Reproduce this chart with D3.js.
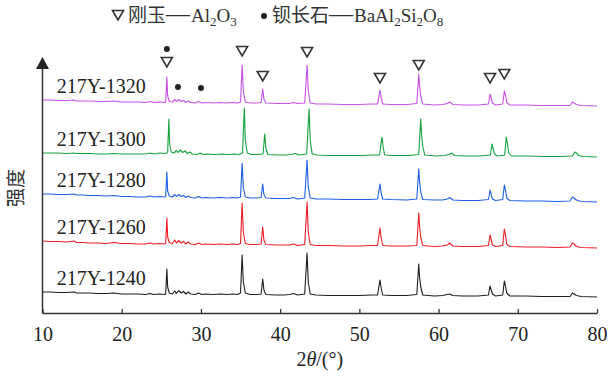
<!DOCTYPE html>
<html><head><meta charset="utf-8">
<script src="https://cdn.jsdelivr.net/npm/d3@7/dist/d3.min.js"></script>
<style>
html,body{margin:0;padding:0;background:#fff;}
svg{display:block;}
</style></head>
<body>
<svg id="chart" width="615" height="380"></svg>
<script>
// ---------- data ----------
const seriesNames = ["217Y-1240","217Y-1260","217Y-1280","217Y-1300","217Y-1320"];
const seriesColors = ["#1e1e1e","#ee1c24","#1f5fe6","#15a23e","#c64fe6"];
// vertical stacking offsets (a.u.)
const seriesOffsets = [32,130,222,312,414];

const s1240 = [[10,10],[11,10],[12,9],[13,9],[14,10],[14.3,8],[15,8],[16,8],[17,7],[18,7],[19,8],[20,6],[21,6],[22,6],[23,5],[23.6,7],[24,5],[24.8,6],[25.4,5],
[25.55,6],[25.7,56],[25.8,20],[26.0,8],[26.4,6],[26.7,12],[26.9,7],[27.2,13],[27.5,8],[27.8,11],[28.1,6],[28.4,10],[28.7,6],[29.3,5],[29.7,8],[30.1,5],[30.6,6],[31.5,5],[32.5,6],[33.3,5],[34,6],[34.6,5],[35.0,8],
[35.2,84],[35.35,30],[35.6,8],[36.2,5],[37,5],[37.6,6],[37.8,36],[37.95,14],[38.2,5],[39.5,4],[40.5,4],[41.2,5],[41.7,7],[42.2,4],[43.1,6],[43.4,88],[43.55,30],[43.8,6],[44.5,4],[46,3],[48,3],[50,3],[51.5,4],[52.3,4],[52.6,34],[52.75,18],[52.95,4],[54,3],[56,3],[57.25,5],[57.5,66],[57.6,40],[57.75,20],[58,4],[59.5,2],[60.5,3],[61.1,5],[61.4,6],[61.8,3],[63,2],[65,2],[66.3,4],[66.5,22],[66.65,14],[66.8,6],[67.2,2],[68.1,4],[68.3,32],[68.45,22],[68.6,8],[69,2],[71,2],[73,1],[75,1],[76.6,1],[76.9,8],[77.1,6],[77.4,3],[78,1],[80,0]];

const s1260 = [[10,14],[11,13],[12,13],[13,12],[14,14],[14.3,11],[15,11],[16,10],[17,10],[18,9],[19,11],[20,9],[21,9],[22,8],[23,8],[23.6,10],[24,8],[24.8,9],[25.4,8],
[25.55,9],[25.7,60],[25.8,22],[26.0,11],[26.4,9],[26.7,16],[26.9,10],[27.2,15],[27.5,10],[27.8,13],[28.1,8],[28.4,12],[28.7,8],[29.3,7],[29.7,10],[30.1,7],[30.6,8],[31.5,7],[32.5,8],[33.3,7],[34,8],[34.6,7],[35.0,9],
[35.2,90],[35.35,32],[35.6,9],[36.2,7],[37,7],[37.6,8],[37.8,42],[37.95,16],[38.2,7],[39.5,6],[40.5,6],[41.2,6],[41.7,8],[42.2,5],[43.1,7],[43.4,92],[43.55,32],[43.8,7],[44.5,5],[46,5],[48,4],[50,4],[51.5,5],[52.3,5],[52.6,40],[52.75,20],[52.95,5],[54,4],[56,4],[57.25,5],[57.5,70],[57.6,44],[57.75,22],[58,5],[59.5,3],[60.5,4],[61.1,6],[61.4,10],[61.8,4],[63,3],[65,3],[66.3,5],[66.5,26],[66.65,16],[66.8,6],[67.2,3],[68.1,5],[68.3,38],[68.45,26],[68.6,8],[69,3],[71,2],[73,2],[75,1],[76.6,2],[76.9,10],[77.1,8],[77.4,3],[78,1],[80,0]];

const s1280 = [[10,16],[11,16],[12,15],[13,15],[14,16],[14.3,14],[15,14],[16,13],[17,13],[18,12],[19,13],[20,11],[21,11],[22,10],[23,10],[23.6,12],[24,10],[24.8,11],[25.4,10],
[25.55,11],[25.7,60],[25.8,22],[26.0,12],[26.4,10],[26.7,15],[26.9,11],[27.2,15],[27.5,11],[27.8,13],[28.1,9],[28.4,12],[28.7,9],[29.3,8],[29.7,11],[30.1,8],[30.6,9],[31.5,8],[32.5,9],[33.3,8],[34,9],[34.6,8],[35.0,10],
[35.2,78],[35.35,30],[35.6,10],[36.2,8],[37,8],[37.6,9],[37.8,36],[37.95,15],[38.2,8],[39.5,7],[40.5,7],[41.2,7],[41.7,9],[42.2,6],[43.1,8],[43.4,84],[43.55,30],[43.8,8],[44.5,6],[46,6],[48,5],[50,5],[51.5,5],[52.3,6],[52.6,36],[52.75,18],[52.95,6],[54,5],[56,4],[57.25,6],[57.5,66],[57.6,42],[57.75,20],[58,5],[59.5,4],[60.5,4],[61.1,6],[61.4,9],[61.8,4],[63,3],[65,3],[66.3,5],[66.5,24],[66.65,15],[66.8,6],[67.2,3],[68.1,5],[68.3,34],[68.45,24],[68.6,8],[69,3],[71,2],[73,2],[75,1],[76.6,2],[76.9,10],[77.1,8],[77.4,4],[78,1],[80,0]];

const s1300 = [[10,8],[11,8],[12,8],[13,7],[14,8],[14.3,7],[15,7],[16,7],[17,6],[18,6],[19,7],[20,6],[21,6],[22,6],[23,6],[23.6,8],[24,6],[24.8,8],[25.4,7],[25.7,8],
[25.8,10],[25.95,76],[26.05,26],[26.25,10],[26.6,8],[26.9,13],[27.1,9],[27.4,14],[27.7,9],[28.0,12],[28.3,7],[28.6,10],[28.9,6],[29.5,5],[29.9,8],[30.3,5],[30.8,6],[31.7,5],[32.7,6],[33.5,5],[34.2,6],[34.8,5],[35.25,8],
[35.48,98],[35.6,34],[35.85,8],[36.4,5],[37.2,5],[37.85,6],[38.05,46],[38.2,18],[38.45,5],[39.7,4],[40.7,4],[41.4,5],[41.9,7],[42.4,4],[43.35,6],[43.65,96],[43.8,32],[44.05,6],[44.7,4],[46.2,3],[48.2,3],[50.2,3],[51.7,4],[52.55,4],[52.85,40],[53.0,20],[53.2,4],[54.2,3],[56.2,3],[57.5,5],[57.75,76],[57.85,46],[58.0,22],[58.25,4],[59.7,2],[60.7,3],[61.35,5],[61.65,8],[62.0,3],[63.2,2],[65.2,2],[66.55,4],[66.75,26],[66.9,16],[67.05,6],[67.4,2],[68.35,4],[68.55,40],[68.7,26],[68.85,8],[69.2,2],[71.2,2],[73.2,1],[75.2,1],[76.9,2],[77.2,10],[77.4,8],[77.7,3],[78.2,1],[80,0]];

const s1320 = [[10,12],[11,12],[12,11],[13,11],[14,12],[14.3,10],[15,10],[16,10],[17,9],[18,9],[19,10],[20,8],[21,8],[22,8],[23,7],[23.6,9],[24,7],[24.8,8],[25.4,7],
[25.55,8],[25.7,58],[25.8,20],[26.0,9],[26.4,8],[26.7,13],[26.9,9],[27.2,13],[27.5,9],[27.8,11],[28.1,7],[28.4,10],[28.7,7],[29.3,6],[29.7,9],[30.1,6],[30.6,7],[31.5,6],[32.5,7],[33.3,6],[34,7],[34.6,6],[35.0,8],
[35.2,82],[35.35,30],[35.6,8],[36.2,6],[37,6],[37.6,7],[37.8,34],[37.95,14],[38.2,6],[39.5,5],[40.5,5],[41.2,5],[41.7,7],[42.2,5],[43.1,6],[43.4,82],[43.55,30],[43.8,6],[44.5,4],[46,4],[48,3],[50,3],[51.5,4],[52.3,4],[52.6,32],[52.75,16],[52.95,4],[54,3],[56,3],[57.25,5],[57.5,64],[57.6,40],[57.75,20],[58,4],[59.5,2],[60.5,3],[61.1,5],[61.4,8],[61.8,3],[63,2],[65,2],[66.3,4],[66.5,24],[66.65,15],[66.8,6],[67.2,2],[68.1,4],[68.3,30],[68.45,22],[68.6,7],[69,2],[71,2],[73,1],[75,1],[76.6,1],[76.9,8],[77.1,6],[77.4,3],[78,1],[80,0]];

const seriesData = [s1240,s1260,s1280,s1300,s1320];

// phase markers: [2theta, level a.u.]
const corundumMarks = [[25.7,502],[35.2,524],[37.8,474],[43.4,522],[52.6,470],[57.5,496],[66.5,470],[68.3,478]];
const celsianMarks = [[25.7,528],[27.1,452],[30.0,450]];

const xTicks = [10,20,30,40,50,60,70,80];
const xTitle = "2θ/(°)";
const yTitle = "强度";

// ---------- drawing ----------
const svg = d3.select("#chart");
const x = d3.scaleLinear().domain([10,80]).range([42.5,597]);
const y = d3.scaleLinear().domain([0,512]).range([313,57]);
const axisColor = "#333";
const serif = "'Liberation Serif','Times New Roman',serif";
const cjk = "'Noto Sans CJK SC','Noto Sans CJK JP',sans-serif";

// series lines
seriesData.forEach((d,i)=>{
  const line = d3.line().x(p=>x(p[0])).y(p=>y(seriesOffsets[i]+p[1]));
  svg.append("path").attr("d",line(d)).attr("fill","none")
    .attr("stroke",seriesColors[i]).attr("stroke-width",1.1).attr("stroke-linejoin","round");
  svg.append("text").attr("x",x(11.8)).attr("y",y(seriesOffsets[i]+d[0][1])-7)
    .attr("font-family",serif).attr("font-size",20).attr("fill","#222")
    .text(seriesNames[i]);
});

// x axis
const xAxis = d3.axisBottom(x).tickValues(xTicks).tickSizeInner(-4).tickSizeOuter(0).tickPadding(10);
const gx = svg.append("g").attr("transform",`translate(0,${y(0)})`).call(xAxis);
gx.select(".domain").attr("stroke",axisColor).attr("stroke-width",1.5);
gx.selectAll(".tick line").attr("stroke",axisColor).attr("stroke-width",1.3);
gx.selectAll(".tick text").attr("font-family",serif).attr("font-size",20).attr("fill","#222").attr("dy","0.9em");

// y axis line with arrow
svg.append("line").attr("x1",x(10)).attr("x2",x(10)).attr("y1",y(0)+0.75).attr("y2",y(512)+8)
  .attr("stroke",axisColor).attr("stroke-width",1.5);
svg.append("path").attr("d",`M${x(10)},${y(512)} l-6.5,12 l13,0 z`).attr("fill","#222");

// axis titles
const xt = svg.append("text").attr("x",(x(10)+x(80))/2).attr("y",366).attr("text-anchor","middle")
  .attr("font-family",serif).attr("font-size",20).attr("fill","#222");
xt.append("tspan").text("2");
xt.append("tspan").attr("font-style","italic").text("θ");
xt.append("tspan").text("/(°)");
svg.append("text").attr("transform","translate(23,188) rotate(-90)").attr("text-anchor","middle")
  .attr("font-family",cjk).attr("font-size",19).attr("fill","#333").text(yTitle);

// markers
function tri(g,cx,cy){
  g.append("path").attr("d",`M${cx-5.5},${cy-4.5} L${cx+5.5},${cy-4.5} L${cx},${cy+5} Z`)
   .attr("fill","none").attr("stroke","#333").attr("stroke-width",1.6).attr("stroke-linejoin","miter");
}
corundumMarks.forEach(m=>tri(svg,x(m[0]),y(m[1])));
celsianMarks.forEach(m=>svg.append("circle").attr("cx",x(m[0])).attr("cy",y(m[1])).attr("r",3).attr("fill","#222"));

// legend
const lg = svg.append("g");
tri(lg,118,15);
const t1 = lg.append("text").attr("x",128).attr("y",22).attr("font-size",19).attr("fill","#333");
t1.append("tspan").attr("font-family",cjk).text("刚玉");
t1.append("tspan").attr("font-family",serif).attr("font-size",24).attr("dy",-1).text("—");
t1.append("tspan").attr("font-family",serif).attr("dy",1).attr("dx",1).text("Al");
t1.append("tspan").attr("font-family",serif).attr("font-size",13).attr("dy",4).text("2");
t1.append("tspan").attr("font-family",serif).attr("dy",-4).text("O");
t1.append("tspan").attr("font-family",serif).attr("font-size",13).attr("dy",4).text("3");
lg.append("circle").attr("cx",264).attr("cy",16).attr("r",3).attr("fill","#222");
const t2 = lg.append("text").attr("x",272).attr("y",22).attr("font-size",19).attr("fill","#333");
t2.append("tspan").attr("font-family",cjk).text("钡长石");
t2.append("tspan").attr("font-family",serif).attr("font-size",24).attr("dy",-1).text("—");
t2.append("tspan").attr("font-family",serif).attr("dy",1).attr("dx",1).text("BaAl");
t2.append("tspan").attr("font-family",serif).attr("font-size",13).attr("dy",4).text("2");
t2.append("tspan").attr("font-family",serif).attr("dy",-4).text("Si");
t2.append("tspan").attr("font-family",serif).attr("font-size",13).attr("dy",4).text("2");
t2.append("tspan").attr("font-family",serif).attr("dy",-4).text("O");
t2.append("tspan").attr("font-family",serif).attr("font-size",13).attr("dy",4).text("8");
</script>
</body></html>
